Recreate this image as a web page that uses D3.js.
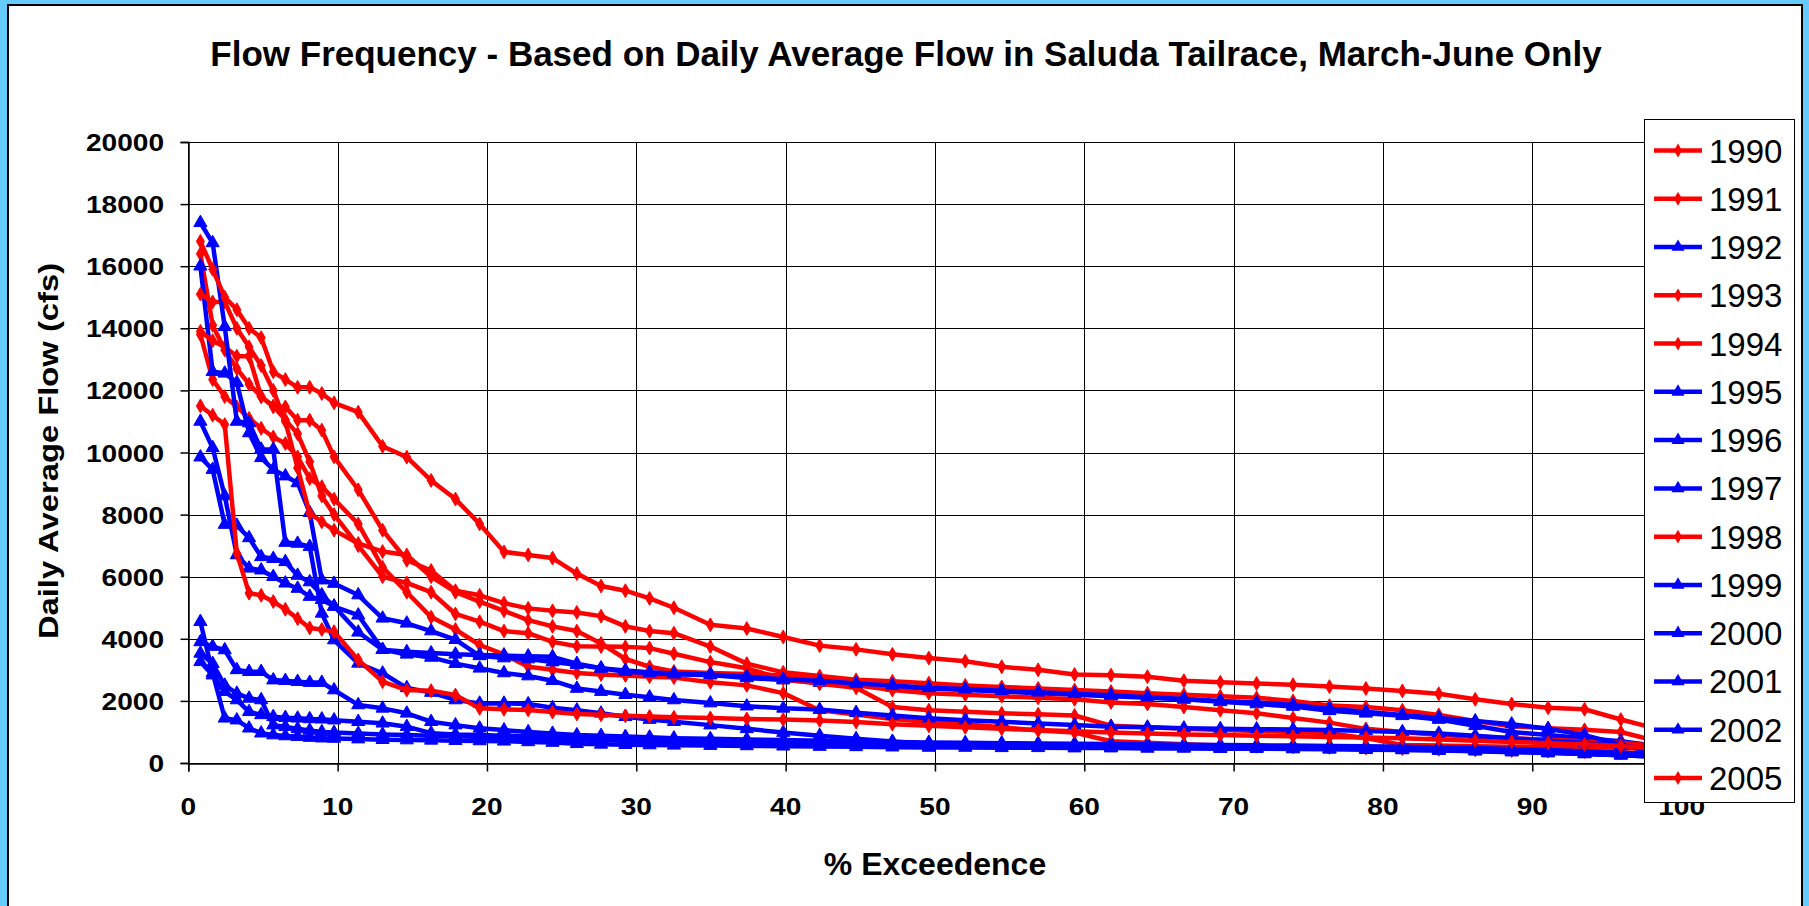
<!DOCTYPE html>
<html lang="en">
<head>
<meta charset="UTF-8">
<title>Flow Frequency - Saluda Tailrace</title>
<script src="https://d3js.org/d3.v7.min.js"></script>
<style>
  body { margin: 0; background: #66ccff; }
  svg { display: block; font-family: "Liberation Sans", Arial, sans-serif; }
</style>
</head>
<body>
<div id="container"></div>
<script>
// % exceedence at which flows were read (rank / 123 days * 100)
const exceedance = [0.81,1.63,2.44,3.25,4.07,4.88,5.69,6.50,7.32,8.13,8.94,9.76,
  11.38,13.01,14.63,16.26,17.89,19.51,21.14,22.76,24.39,26.02,27.64,29.27,30.89,32.52,
  34.96,37.40,39.84,42.28,44.72,47.15,49.59,52.03,54.47,56.91,59.35,61.79,64.23,66.67,69.11,
  71.54,73.98,76.42,78.86,81.30,83.74,86.18,88.62,91.06,93.50,95.93,98.37];

// daily average flow (cfs), one array per year
const flow1990 = [16400,14100,13300,12700,12200,11800,11470,11470,11040,11040,10720,9860,
  8800,7500,6530,6200,5550,5400,5150,4980,4900,4850,4730,4400,4250,4180,
  3750,3200,2920,2800,2680,2630,2570,2500,2450,2400,2350,2300,2250,2200,2150,2100,2000,1850,1800,1700,1550,1350,1180,1120,1070,1000,700];
const flow1991 = [13800,12350,11800,11470,11100,10780,10500,10290,9860,9160,8900,8500,
  7700,6300,5500,4700,4300,3800,3500,3100,3000,2900,2850,2820,2780,2750,
  2600,2500,2250,1700,1560,1420,1320,1250,1150,1050,980,700,650,600,560,540,520,500,480,460,440,420,400,380,360,340,320];
const flow1992 = [16000,12600,12550,12250,10630,9830,9450,9240,9020,8060,5890,5780,
  5410,4660,4500,4250,3970,3450,3380,3350,3250,3160,3050,2940,2900,2860,
  2830,2740,2670,2590,2510,2430,2400,2350,2300,2250,2200,2150,2100,2050,1970,1900,1820,1680,1600,1520,1400,1200,1000,900,800,700,550];
const flow1993 = [15100,14850,14850,14000,13400,12800,12000,11000,9500,8040,7770,7500,
  7070,6810,6700,6000,5500,5200,4900,4600,4400,4250,3850,3350,3100,2950,
  2900,2870,2820,2700,2500,2350,2250,2200,2150,2100,2050,1950,1900,1800,1700,1600,1450,1300,1100,1000,900,850,800,750,700,650,550];
const flow1994 = [13900,13600,13400,13100,13100,11800,11500,11050,10600,9700,8600,8000,
  7000,6000,5800,5500,4800,4550,4250,4180,3900,3760,3750,3740,3700,3520,
  3250,3050,2700,2550,2420,1800,1700,1650,1600,1570,1530,1200,1150,1100,1060,1030,1000,960,800,580,560,540,520,510,500,490,470];
const flow1995 = [9850,9450,7680,7650,7250,6640,6580,6480,6040,5830,5410,5040,
  4760,3650,3500,3400,3200,3050,2900,2800,2650,2400,2300,2200,2120,2030,
  1930,1830,1760,1720,1620,1530,1440,1380,1330,1270,1220,1170,1150,1120,1100,1090,1080,1060,1030,1000,950,880,800,720,650,550,450];
const flow1996 = [11000,10150,8600,6700,6270,6210,6000,5790,5620,5360,5260,5050,
  4210,3650,3580,3540,3500,3480,3460,3440,3420,3200,3050,2980,2920,2880,
  2850,2780,2700,2650,2560,2500,2420,2380,2330,2280,2230,2180,2120,2060,2000,1950,1870,1750,1650,1550,1450,1350,1250,1100,900,600,300];
const flow1997 = [17400,16750,14050,11000,10950,10100,10100,7100,7070,6970,4820,3960,
  3210,2890,2420,2270,2030,1920,1920,1900,1780,1700,1600,1490,1400,1330,
  1220,1100,980,880,780,690,620,580,560,550,540,530,520,510,500,490,480,470,460,450,420,400,380,350,300,250,200];
const flow1998 = [16800,15900,15000,14600,14000,13700,12600,12350,12100,12100,11900,11600,
  11300,10200,9850,9100,8500,7700,6800,6700,6600,6100,5700,5550,5300,5000,
  4450,4330,4060,3780,3660,3500,3380,3280,3100,3000,2850,2830,2780,2650,2600,2560,2520,2460,2400,2320,2230,2050,1900,1780,1730,1400,1100];
const flow1999 = [3900,3750,3640,3000,2940,2940,2670,2650,2620,2590,2590,2350,
  1870,1760,1600,1330,1220,1120,1060,1000,950,900,880,850,830,800,
  780,760,740,720,700,680,660,650,640,630,620,610,600,590,580,570,560,550,540,520,500,480,450,420,380,330,280];
const flow2000 = [3260,2830,2300,2030,1650,1550,1490,1460,1440,1420,1410,1380,
  1330,1280,1170,960,920,900,880,860,850,830,800,780,760,740,
  720,700,680,660,640,620,610,600,590,580,570,560,550,540,530,520,510,500,490,470,450,430,400,370,330,290,250];
const flow2001 = [4550,2900,1440,1380,1120,960,900,870,850,820,800,790,
  770,750,740,730,720,710,700,680,660,620,600,590,580,570,
  560,550,540,530,520,510,500,500,490,490,480,480,470,470,460,460,450,440,430,420,400,380,350,320,290,250,200];
const flow2002 = [3530,3200,2500,2240,2080,2030,1220,1170,1100,1050,1000,980,
  950,920,900,880,860,840,820,800,780,760,740,720,700,680,
  660,640,620,600,590,580,570,560,550,540,530,520,510,500,490,480,470,460,450,430,410,390,370,340,300,260,220];
const flow2005 = [11500,11200,10900,6750,5470,5400,5200,4950,4650,4350,4300,4230,
  3320,2620,2350,2330,2190,1760,1730,1710,1640,1580,1550,1520,1500,1470,
  1450,1420,1400,1370,1320,1250,1200,1150,1100,1060,1020,980,950,920,900,880,860,840,820,800,760,720,680,640,600,550,450];

const years = ["1990","1991","1992","1993","1994","1995","1996","1997","1998","1999","2000","2001","2002","2005"];
const flows = [flow1990,flow1991,flow1992,flow1993,flow1994,flow1995,flow1996,flow1997,flow1998,flow1999,flow2000,flow2001,flow2002,flow2005];
// wet years red with diamonds, the others blue with triangles
const wetYears = ["1990","1991","1993","1994","1998","2005"];

const xTicks = [0,10,20,30,40,50,60,70,80,90,100];
const yTicks = [0,2000,4000,6000,8000,10000,12000,14000,16000,18000,20000];

const W = 1809, H = 906;
const RED = "#ff0000", BLUE = "#0000ff";

const svg = d3.select("#container").append("svg")
  .attr("width", W).attr("height", H);

svg.append("rect").attr("width", W).attr("height", H).attr("fill", "#66ccff");
svg.append("rect")
  .attr("x", 8).attr("y", 5).attr("width", 1794).attr("height", H)
  .attr("fill", "#fff").attr("stroke", "#000").attr("stroke-width", 2);

const x = d3.scaleLinear().domain([0, 100]).range([188.3, 1681.6]);
const y = d3.scaleLinear().domain([0, 20000]).range([763, 142]);

// title
svg.append("text")
  .attr("x", 906).attr("y", 66)
  .attr("text-anchor", "middle")
  .style("font-size", "35px").style("font-weight", "bold")
  .text("Flow Frequency - Based on Daily Average Flow in Saluda Tailrace, March-June Only");

// grid
const grid = svg.append("g").attr("stroke", "#000").attr("stroke-width", 1);
grid.selectAll("line.h").data(yTicks).enter().append("line")
  .attr("x1", x(0)).attr("x2", x(100))
  .attr("y1", d => Math.round(y(d)) + 0.5).attr("y2", d => Math.round(y(d)) + 0.5);
grid.selectAll("line.v").data(xTicks).enter().append("line")
  .attr("y1", y(0)).attr("y2", y(20000))
  .attr("x1", d => Math.round(x(d)) + 0.5).attr("x2", d => Math.round(x(d)) + 0.5);

// axes (ticks only, labels drawn separately so they can be stretched like the original)
const yAxis = d3.axisLeft(y).tickValues(yTicks).tickSize(8).tickFormat("");
const xAxis = d3.axisBottom(x).tickValues(xTicks).tickSize(8).tickFormat("");
svg.append("g").attr("transform", "translate(" + (Math.round(x(0)) + 0.5) + ",0)").call(yAxis)
  .call(g => g.selectAll("path,line").attr("stroke", "#000").attr("stroke-width", 1.5));
svg.append("g").attr("transform", "translate(0," + (Math.round(y(0)) + 0.5) + ")").call(xAxis)
  .call(g => g.selectAll("path,line").attr("stroke", "#000").attr("stroke-width", 1.5));

svg.append("g").selectAll("text").data(yTicks).enter().append("text")
  .attr("transform", d => "translate(164," + (y(d) + 9) + ") scale(1.17,1)")
  .attr("text-anchor", "end")
  .style("font-size", "24px").style("font-weight", "bold")
  .text(d => d);

svg.append("g").selectAll("text").data(xTicks).enter().append("text")
  .attr("transform", d => "translate(" + x(d) + ",815) scale(1.17,1)")
  .attr("text-anchor", "middle")
  .style("font-size", "24px").style("font-weight", "bold")
  .text(d => d);

// axis titles
svg.append("text")
  .attr("transform", "translate(58,451) rotate(-90) scale(1.17,1)")
  .attr("text-anchor", "middle")
  .style("font-size", "28px").style("font-weight", "bold")
  .text("Daily Average Flow (cfs)");

svg.append("text")
  .attr("x", 935).attr("y", 875)
  .attr("text-anchor", "middle")
  .style("font-size", "32px").style("font-weight", "bold")
  .text("% Exceedence");

// series
const series = years.map((yr, i) => ({
  year: yr,
  wet: wetYears.includes(yr),
  values: exceedance.map((p, j) => ({ p: p, q: flows[i][j] }))
}));

const line = d3.line().x(d => x(d.p)).y(d => y(d.q));
const diamond = d3.symbol().type(d3.symbolDiamond).size(55);
const triangle = d3.symbol().type(d3.symbolTriangle).size(75);

const plot = svg.append("g");
series.forEach(s => {
  const col = s.wet ? RED : BLUE;
  const g = plot.append("g");
  g.append("path")
    .datum(s.values)
    .attr("d", line)
    .attr("fill", "none")
    .attr("stroke", col)
    .attr("stroke-width", 4.5)
    .attr("stroke-linejoin", "round");
  g.selectAll("path.m").data(s.values).enter().append("path")
    .attr("class", "m")
    .attr("transform", d => "translate(" + x(d.p) + "," + y(d.q) + ")")
    .attr("d", s.wet ? diamond : triangle)
    .attr("fill", col)
    .attr("stroke", col)
    .attr("stroke-width", 1);
});

// legend
const legendY = d3.scalePoint().domain(years).range([150.5, 778]);
const legend = svg.append("g");
legend.append("rect")
  .attr("x", 1644.5).attr("y", 119.5).attr("width", 150).attr("height", 683)
  .attr("fill", "#fff").attr("stroke", "#000").attr("stroke-width", 1);

const item = legend.selectAll("g.item").data(series).enter().append("g")
  .attr("transform", d => "translate(0," + legendY(d.year) + ")");
item.append("line")
  .attr("x1", 1654).attr("x2", 1702)
  .attr("stroke", d => d.wet ? RED : BLUE)
  .attr("stroke-width", 4.5);
item.append("path")
  .attr("transform", "translate(1678,0)")
  .attr("d", d => d.wet ? diamond() : triangle())
  .attr("fill", d => d.wet ? RED : BLUE);
item.append("text")
  .attr("x", 1709).attr("y", 12)
  .style("font-size", "33px")
  .text(d => d.year);
</script>
</body>
</html>
